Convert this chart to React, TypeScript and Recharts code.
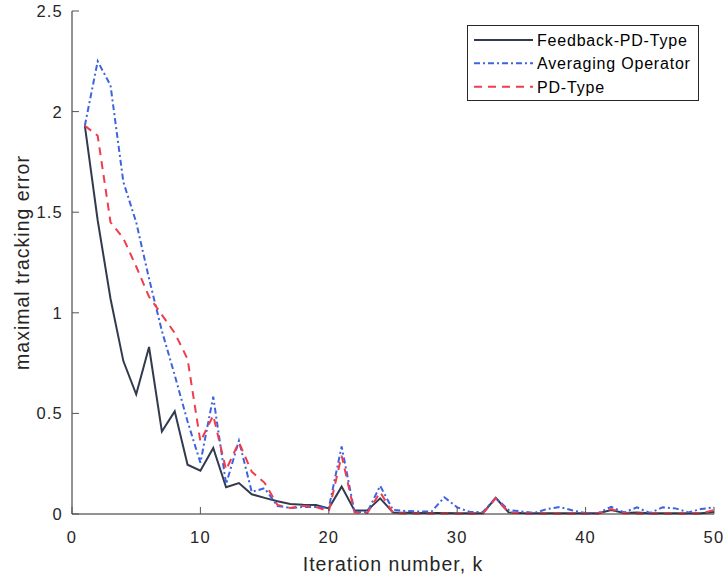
import React from 'react';
import { LineChart, Line, XAxis, YAxis, Legend, Label } from 'recharts';

const iterations = [
  1, 2, 3, 4, 5, 6, 7, 8, 9, 10, 11, 12, 13, 14, 15, 16, 17, 18, 19, 20, 21, 22, 23, 24, 25,
  26, 27, 28, 29, 30, 31, 32, 33, 34, 35, 36, 37, 38, 39, 40, 41, 42, 43, 44, 45, 46, 47, 48, 49, 50,
];

const feedbackPD = [
  1.93, 1.46, 1.07, 0.76, 0.595, 0.83, 0.41, 0.51, 0.245, 0.215, 0.328, 0.133, 0.154, 0.098, 0.08,
  0.063, 0.05, 0.046, 0.045, 0.028, 0.136, 0.018, 0.018, 0.078, 0.008, 0.006, 0.005, 0.005, 0.005, 0.004,
  0.004, 0.004, 0.08, 0.008, 0.005, 0.004, 0.004, 0.004, 0.004, 0.004, 0.004, 0.02, 0.005, 0.008, 0.004,
  0.004, 0.004, 0.004, 0.004, 0.01,
];

const averaging = [
  1.93, 2.25, 2.13, 1.65, 1.45, 1.17, 0.91, 0.69, 0.46, 0.255, 0.583, 0.149, 0.364, 0.11, 0.128,
  0.04, 0.03, 0.035, 0.035, 0.03, 0.336, 0.01, 0.01, 0.14, 0.02, 0.015, 0.012, 0.012, 0.083, 0.033,
  0.01, 0.01, 0.08, 0.02, 0.013, 0.005, 0.025, 0.035, 0.017, 0.005, 0.005, 0.036, 0.008, 0.033, 0.005,
  0.033, 0.028, 0.008, 0.025, 0.033,
];

const pdType = [
  1.93, 1.88, 1.45, 1.37, 1.23, 1.08, 0.99, 0.9, 0.77, 0.36, 0.49, 0.22, 0.356, 0.21, 0.155,
  0.045, 0.03, 0.04, 0.035, 0.013, 0.29, 0.008, 0.005, 0.108, 0.005, 0.003, 0.003, 0.003, 0.003, 0.003,
  0.003, 0.003, 0.078, 0.008, 0.003, 0.003, 0.003, 0.003, 0.003, 0.003, 0.003, 0.025, 0.004, 0.003, 0.003,
  0.003, 0.003, 0.003, 0.003, 0.02,
];

const xTicks = [0, 10, 20, 30, 40, 50];
const yTicks = [0, 0.5, 1, 1.5, 2, 2.5];
const yTickLabels = ['0', '0.5', '1', '1.5', '2', '2.5'];

const seriesNames = ['Feedback-PD-Type', 'Averaging Operator', 'PD-Type'];
const seriesKeys = ['fb', 'avg', 'pd'];
const seriesColors = ['#323b4e', '#3d63e0', '#f03c4d'];
const seriesDash = [undefined, '6 3 2 3', '8 6'];

const data = iterations.map((k, i) => ({
  k,
  fb: feedbackPD[i],
  avg: averaging[i],
  pd: pdType[i],
}));

const FONT = '"Liberation Sans", Arial, Helvetica, sans-serif';
const TEXT_COLOR = '#262626';

const XTick = (props: any) => {
  const { x, y, payload } = props;
  return (
    <g>
      <line x1={x} y1={y} x2={x} y2={y - 7} stroke="#555" strokeWidth={1} />
      <text
        x={x}
        y={y + 29}
        textAnchor="middle"
        fontFamily={FONT}
        fontSize={16.5}
        letterSpacing={1.2}
        fill={TEXT_COLOR}
      >
        {String(payload.value)}
      </text>
    </g>
  );
};

const YTick = (props: any) => {
  const { x, y, payload } = props;
  const idx = yTicks.indexOf(payload.value);
  const label = idx >= 0 ? yTickLabels[idx] : String(payload.value);
  return (
    <g>
      <line x1={x} y1={y} x2={x + 7} y2={y} stroke="#555" strokeWidth={1} />
      <text
        x={x - 9}
        y={y + 6}
        textAnchor="end"
        fontFamily={FONT}
        fontSize={16.5}
        letterSpacing={1.2}
        fill={TEXT_COLOR}
      >
        {label}
      </text>
    </g>
  );
};

const LegendBox = () => {
  const rowY = [15, 38.3, 61.7];
  return (
    <svg width={232} height={76} style={{ display: 'block' }}>
      <rect x={0.5} y={0.5} width={231} height={75} fill="#fff" stroke="#262626" strokeWidth={1} />
      {seriesNames.map((name, i) => (
        <g key={name}>
          <line
            x1={7}
            x2={66}
            y1={rowY[i]}
            y2={rowY[i]}
            stroke={seriesColors[i]}
            strokeWidth={2}
            strokeDasharray={seriesDash[i]}
          />
          <text
            x={70}
            y={rowY[i] + 6}
            fontFamily={FONT}
            fontSize={16}
            letterSpacing={0.8}
            fill="#000"
          >
            {name}
          </text>
        </g>
      ))}
    </svg>
  );
};

export default function App() {
  return (
    <div style={{ position: 'absolute', left: 0, top: 0, width: 723, height: 579, background: '#fff' }}>
      <LineChart
        width={723}
        height={579}
        data={data}
        margin={{ top: 11, right: 9, left: 0, bottom: 0 }}
      >
        <XAxis
          dataKey="k"
          type="number"
          domain={[0, 50]}
          ticks={xTicks}
          tickSize={0}
          tickMargin={0}
          tickLine={false}
          tick={<XTick />}
          axisLine={{ stroke: TEXT_COLOR, strokeWidth: 1 }}
          height={65}
          interval={0}
        >
          <Label
            value="Iteration number, k"
            position="insideBottom"
            offset={8}
            style={{ fontFamily: FONT, fontSize: 19.5, letterSpacing: 1, fill: TEXT_COLOR }}
          />
        </XAxis>
        <YAxis
          type="number"
          domain={[0, 2.5]}
          ticks={yTicks}
          tickSize={0}
          tickMargin={0}
          tickLine={false}
          tick={<YTick />}
          axisLine={{ stroke: TEXT_COLOR, strokeWidth: 1 }}
          width={72}
          interval={0}
        >
          <Label
            value="maximal tracking error"
            angle={-90}
            position="insideLeft"
            offset={22}
            style={{ fontFamily: FONT, fontSize: 19.5, letterSpacing: 1, fill: TEXT_COLOR, textAnchor: 'middle' }}
          />
        </YAxis>
        <Legend
          layout="vertical"
          align="center"
          verticalAlign="middle"
          content={() => <LegendBox />}
          wrapperStyle={{ position: 'absolute', left: 467, top: 25, width: 232, height: 76 }}
        />
        {seriesKeys.map((key, i) => (
          <Line
            key={key}
            type="linear"
            dataKey={key}
            name={seriesNames[i]}
            stroke={seriesColors[i]}
            strokeWidth={2}
            strokeDasharray={seriesDash[i]}
            dot={false}
            activeDot={false}
            isAnimationActive={false}
          />
        ))}
      </LineChart>
    </div>
  );
}
